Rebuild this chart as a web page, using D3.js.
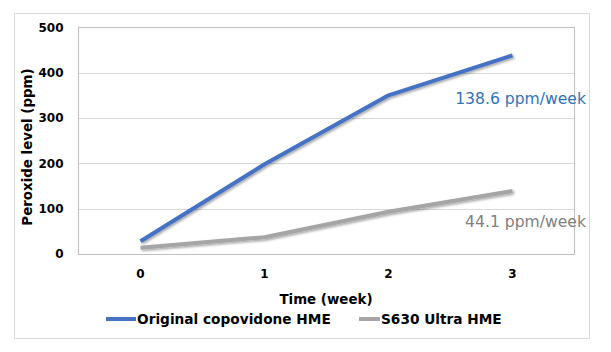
<!DOCTYPE html>
<html><head><meta charset="utf-8">
<script src="https://cdn.jsdelivr.net/npm/d3@7"></script>
<style>body{margin:0;background:#fff}svg{display:block}text{font-family:"DejaVu Sans",sans-serif}</style>
</head><body><svg id="c" width="611" height="352"></svg>
<script>
const weeks = ["0","1","2","3"];
const originalHME = [28, 198, 350, 438];
const ultraHME = [14, 37, 93, 139];
const yTicks = [0,100,200,300,400,500];
const seriesNames = ["Original copovidone HME","S630 Ultra HME"];
const slopeLabels = ["138.6 ppm/week","44.1 ppm/week"];
const colors = ["#4472C4","#A5A5A5"];
const labelColors = ["#2E75B6","#7F7F7F"];

const svg = d3.select("#c");
const defs = svg.append("defs");
const f = defs.append("filter").attr("id","sh").attr("x","-10%").attr("y","-30%").attr("width","120%").attr("height","160%");
f.append("feDropShadow").attr("dx",1.5).attr("dy",1.5).attr("stdDeviation",1.2).attr("flood-color","#000").attr("flood-opacity",0.35);

svg.append("rect").attr("x",14.5).attr("y",13.5).attr("width",575).attr("height",325).attr("fill","#fff").attr("stroke","#D9D9D9");

const L=78.5, R=574.5, T=27.3, B=254;
const x = d3.scaleBand().domain(weeks).range([L,R]);
const y = d3.scaleLinear().domain([0,500]).range([B,T]);

svg.append("g").selectAll("line").data(yTicks).join("line")
  .attr("x1",L).attr("x2",R).attr("y1",d=>Math.round(y(d))+0.5).attr("y2",d=>Math.round(y(d))+0.5)
  .attr("stroke","#D9D9D9");
svg.append("rect").attr("x",L).attr("y",Math.round(T)+0.5).attr("width",R-L).attr("height",Math.round(B)-Math.round(T))
  .attr("fill","none").attr("stroke","#BFBFBF");

const yAxis = svg.append("g").attr("transform",`translate(${L},0)`)
  .call(d3.axisLeft(y).tickValues(yTicks).tickSize(0).tickPadding(15));
yAxis.select(".domain").remove();
yAxis.selectAll("text").attr("font-size",12).attr("font-weight","bold").attr("fill","#000").attr("font-family","DejaVu Sans");

const xAxis = svg.append("g").attr("transform",`translate(0,${B})`)
  .call(d3.axisBottom(x).tickSize(0).tickPadding(15));
xAxis.select(".domain").remove();
xAxis.selectAll("text").attr("font-size",12).attr("font-weight","bold").attr("fill","#000").attr("font-family","DejaVu Sans");

const line = d3.line().x((d,i)=>x(weeks[i])+x.bandwidth()/2).y(d=>y(d));
[ultraHME, originalHME].forEach((s,k)=>{
  const idx = k===0?1:0;
  svg.append("path").datum(s).attr("d",line).attr("fill","none")
    .attr("stroke",colors[idx]).attr("stroke-width",4).attr("stroke-linejoin","round").attr("filter","url(#sh)");
});

svg.append("text").attr("x",586).attr("y",104).attr("text-anchor","end").attr("font-size",15.6)
  .attr("fill",labelColors[0]).text(slopeLabels[0]);
svg.append("text").attr("x",586).attr("y",227).attr("text-anchor","end").attr("font-size",15.6)
  .attr("fill",labelColors[1]).text(slopeLabels[1]);

svg.append("text").attr("x",326).attr("y",304).attr("text-anchor","middle").attr("font-size",13.4)
  .attr("font-weight","bold").text("Time (week)");
svg.append("text").attr("transform","translate(32,147) rotate(-90)").attr("text-anchor","middle")
  .attr("font-size",13.4).attr("font-weight","bold").text("Peroxide level (ppm)");

const lg = svg.append("g");
const lgX = [106, 359], lgW=[30,21];
seriesNames.forEach((n,i)=>{
  lg.append("line").attr("x1",lgX[i]).attr("x2",lgX[i]+lgW[i]).attr("y1",319).attr("y2",319)
    .attr("stroke",colors[i]).attr("stroke-width",4);
  lg.append("text").attr("x",lgX[i]+lgW[i]+1).attr("y",324).attr("font-size",13.7).attr("font-weight","bold").text(n);
});
</script></body></html>
